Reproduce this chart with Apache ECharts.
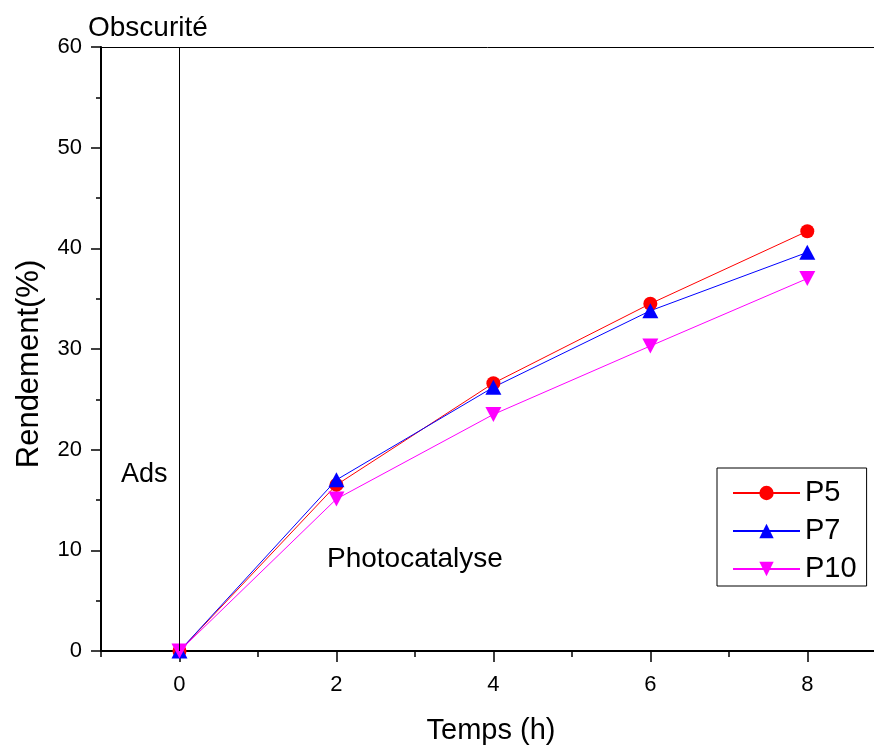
<!DOCTYPE html>
<html>
<head>
<meta charset="utf-8">
<script src="https://cdn.jsdelivr.net/npm/echarts@6/dist/echarts.min.js"></script>
<style>
  html, body { margin: 0; padding: 0; background: #fff; }
  #chart { width: 874px; height: 746px; }
</style>
</head>
<body>
<div id="chart"></div>
<script>
// temps (h)
const hours = [0, 2, 4, 6, 8]
// rendement (%)
const p5 = [0, 16.5, 26.6, 34.5, 41.7]
const p7 = [0, 17.0, 26.2, 33.8, 39.6]
const p10 = [0, 15.1, 23.5, 30.3, 37.0]
const seriesNames = ['P5', 'P7', 'P10']
const xMajorTicks = [0, 2, 4, 6, 8]
const xMinorTicks = [-1, 1, 3, 5, 7]
const darkLimit = 0 // fin de l'obscurité

const font = '"Liberation Sans", Arial, sans-serif'
const pair = (ys) => hours.map((x, i) => [x, ys[i]])

const chart = echarts.init(document.getElementById('chart'), null, { renderer: 'canvas' })

const baseSeries = {
  type: 'line',
  lineStyle: { width: 1 },
  emphasis: { disabled: true },
  animation: false
}

const option = {
  backgroundColor: '#fff',
  animation: false,
  textStyle: { fontFamily: font, color: '#000' },
  grid: { left: 101, top: 47, right: 0, bottom: 95 },
  legend: {
    orient: 'vertical',
    left: 717,
    top: 468,
    data: seriesNames,
    itemWidth: 67,
    itemHeight: 18,
    itemGap: 8,
    padding: [10, 10, 2, 15],
    borderColor: '#000',
    borderWidth: 1,
    textStyle: { fontSize: 29, fontFamily: font, color: '#000', lineHeight: 30 }
  },
  xAxis: [{
    type: 'value',
    min: -1,
    max: 8.85,
    interval: 1,
    position: 'bottom',
    splitLine: { show: false },
    axisLine: { onZero: false, lineStyle: { color: '#000', width: 2 } },
    axisTick: { customValues: xMajorTicks, length: 11, lineStyle: { color: '#000', width: 1.5 } },
    axisLabel: { customValues: xMajorTicks, fontSize: 22, color: '#000', margin: 23, fontFamily: font }
  }, {
    type: 'value',
    min: -1,
    max: 8.85,
    interval: 1,
    position: 'bottom',
    splitLine: { show: false },
    axisLine: { show: false, onZero: false },
    axisTick: { customValues: xMinorTicks, length: 6, lineStyle: { color: '#000', width: 1.5 } },
    axisLabel: { show: false }
  }, {
    type: 'value',
    min: -1,
    max: 8.85,
    position: 'top',
    splitLine: { show: false },
    axisLine: { onZero: false, lineStyle: { color: '#000', width: 1 } },
    axisTick: { show: false },
    axisLabel: { show: false }
  }],
  yAxis: {
    type: 'value',
    min: 0,
    max: 60,
    interval: 10,
    splitLine: { show: false },
    axisLine: { show: true, onZero: false, lineStyle: { color: '#000', width: 2 } },
    axisTick: { show: true, length: 10, lineStyle: { color: '#000', width: 1.5 } },
    minorTick: { show: true, splitNumber: 2, length: 5, lineStyle: { color: '#000', width: 1.5 } },
    axisLabel: { fontSize: 22, color: '#000', margin: 19, fontFamily: font }
  },
  series: [
    {
      ...baseSeries,
      name: 'P5',
      data: pair(p5),
      color: '#ff0000',
      symbol: 'circle',
      symbolSize: 14,
      markLine: {
        silent: true,
        symbol: 'none',
        label: { show: false },
        lineStyle: { color: '#000', width: 1, type: 'solid' },
        data: [{ xAxis: darkLimit }]
      }
    },
    {
      ...baseSeries,
      name: 'P7',
      data: pair(p7),
      color: '#0000ff',
      symbol: 'triangle',
      symbolSize: [16, 15]
    },
    {
      ...baseSeries,
      name: 'P10',
      data: pair(p10),
      color: '#ff00ff',
      symbol: 'path://M0,0 L10,0 L5,10 Z',
      symbolSize: [16, 15]
    }
  ],
  graphic: [
    {
      type: 'text', left: 88, top: 14,
      style: { text: 'Obscurité', font: '28px ' + font, fill: '#000' }
    },
    {
      type: 'text', left: 121, top: 461,
      style: { text: 'Ads', font: '27px ' + font, fill: '#000' }
    },
    {
      type: 'text', left: 327, top: 545,
      style: { text: 'Photocatalyse', font: '28px ' + font, fill: '#000' }
    },
    {
      type: 'text', x: 491, y: 731,
      style: { text: 'Temps (h)', font: '29px ' + font, fill: '#000', align: 'center', verticalAlign: 'middle' }
    },
    {
      type: 'text', x: 29, y: 364, rotation: Math.PI / 2,
      style: { text: 'Rendement(%)', font: '31px ' + font, fill: '#000', align: 'center', verticalAlign: 'middle' }
    }
  ]
}

chart.setOption(option)
window.addEventListener('resize', () => chart.resize())
</script>
</body>
</html>
